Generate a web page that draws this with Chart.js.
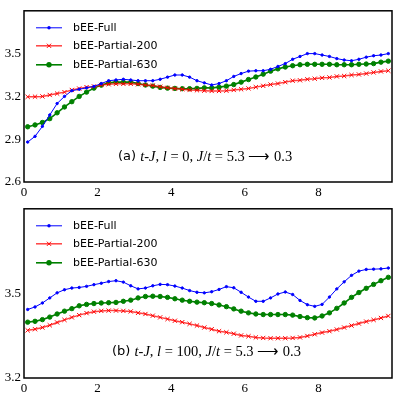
<!DOCTYPE html>
<html>
<head>
<meta charset="utf-8">
<script src="https://cdn.jsdelivr.net/npm/chart.js@4"></script>
<style>
  html, body { margin: 0; padding: 0; background: #fff; }
  canvas { position: absolute; left: 0; }
</style>
</head>
<body>
<canvas id="top" width="399" height="198" style="top:0"></canvas>
<canvas id="bottom" width="399" height="201" style="top:198px"></canvas>
<script>
const xs = [0.1,0.3,0.5,0.7,0.9,1.1,1.3,1.5,1.7,1.9,2.1,2.3,2.5,2.7,2.9,3.1,3.3,3.5,3.7,3.9,
  4.1,4.3,4.5,4.7,4.9,5.1,5.3,5.5,5.7,5.9,6.1,6.3,6.5,6.7,6.9,7.1,7.3,7.5,7.7,7.9,
  8.1,8.3,8.5,8.7,8.9,9.1,9.3,9.5,9.7,9.9];

const seriesNames = ["bEE-Full", "bEE-Partial-200", "bEE-Partial-630"];

// panel (a)
const topFull = [2.88,2.92,2.99,3.07,3.15,3.20,3.24,3.25,3.26,3.27,
  3.29,3.31,3.315,3.32,3.315,3.31,3.31,3.31,3.32,3.335,
  3.35,3.35,3.335,3.31,3.295,3.28,3.29,3.31,3.34,3.36,
  3.377,3.38,3.38,3.39,3.41,3.43,3.46,3.48,3.50,3.50,
  3.49,3.48,3.465,3.455,3.45,3.46,3.475,3.485,3.49,3.50];
const topP200 = [3.197,3.198,3.20,3.21,3.22,3.23,3.245,3.255,3.265,3.27,
  3.28,3.285,3.288,3.288,3.288,3.285,3.28,3.277,3.268,3.26,
  3.255,3.25,3.245,3.243,3.24,3.238,3.238,3.24,3.245,3.25,
  3.256,3.265,3.274,3.283,3.29,3.30,3.31,3.313,3.32,3.324,
  3.33,3.333,3.34,3.343,3.35,3.354,3.36,3.368,3.375,3.38];
const topP630 = [2.987,3.0,3.017,3.044,3.085,3.126,3.163,3.2,3.23,3.258,
  3.279,3.295,3.30,3.30,3.30,3.29,3.28,3.272,3.263,3.258,
  3.256,3.254,3.254,3.256,3.26,3.26,3.265,3.272,3.283,3.30,
  3.318,3.336,3.356,3.377,3.393,3.406,3.415,3.422,3.425,3.425,
  3.425,3.425,3.422,3.422,3.422,3.425,3.427,3.43,3.44,3.447];

// panel (b)
const botFull = [3.443,3.452,3.466,3.484,3.502,3.513,3.519,3.521,3.525,3.531,
  3.536,3.542,3.545,3.54,3.527,3.516,3.519,3.527,3.532,3.531,
  3.526,3.519,3.51,3.504,3.502,3.506,3.514,3.524,3.52,3.504,
  3.487,3.472,3.472,3.484,3.498,3.505,3.496,3.475,3.46,3.454,
  3.461,3.487,3.516,3.541,3.564,3.579,3.585,3.586,3.587,3.59];
const botP200 = [3.369,3.373,3.379,3.387,3.397,3.406,3.415,3.423,3.43,3.435,
  3.438,3.439,3.439,3.438,3.436,3.431,3.427,3.421,3.415,3.409,
  3.403,3.398,3.392,3.386,3.379,3.373,3.366,3.362,3.357,3.351,
  3.348,3.344,3.342,3.341,3.341,3.341,3.342,3.344,3.349,3.355,
  3.361,3.366,3.372,3.379,3.386,3.393,3.4,3.406,3.413,3.42];
const botP630 = [3.398,3.401,3.407,3.416,3.427,3.437,3.446,3.456,3.461,3.464,
  3.466,3.467,3.468,3.472,3.476,3.484,3.489,3.49,3.489,3.486,
  3.481,3.476,3.472,3.469,3.467,3.464,3.459,3.453,3.445,3.437,
  3.431,3.427,3.425,3.425,3.425,3.425,3.423,3.418,3.414,3.413,
  3.42,3.431,3.447,3.466,3.486,3.503,3.518,3.532,3.545,3.557];

const xTicks = [0, 2, 4, 6, 8];
const topYTicks = [2.6, 2.9, 3.2, 3.5];
const botYTicks = [3.2, 3.5];

// [text, font kind] : r = roman, i = math italic, s = sans
const topNote = [["(a) ", "s"], ["t", "i"], ["-", "r"], ["J", "i"], [", ", "r"], ["l", "i"], [" = 0, ", "r"],
  ["J", "i"], ["/", "r"], ["t", "i"], [" = 5.3 \u27F6 0.3", "r"]];
const botNote = [["(b) ", "s"], ["t", "i"], ["-", "r"], ["J", "i"], [", ", "r"], ["l", "i"], [" = 100, ", "r"],
  ["J", "i"], ["/", "r"], ["t", "i"], [" = 5.3 \u27F6 0.3", "r"]];

const noteFonts = {
  r: "14.5px 'Liberation Serif'",
  i: "italic 14.5px 'Liberation Serif'",
  s: "13px 'DejaVu Sans'",
};

const panelPlugin = {
  id: "panel",
  afterDraw(chart) {
    const { ctx, chartArea: a } = chart;
    ctx.save();
    // frame
    ctx.strokeStyle = "#000";
    ctx.lineWidth = 1.5;
    ctx.strokeRect(a.left, a.top, a.right - a.left, a.bottom - a.top);

    // legend in upper left
    const rows = [17, 35, 54];
    chart.data.datasets.forEach((ds, i) => {
      const y = a.top + rows[i];
      ctx.strokeStyle = ds.borderColor;
      ctx.lineWidth = ds.borderWidth;
      ctx.beginPath();
      ctx.moveTo(36, y);
      ctx.lineTo(62, y);
      ctx.stroke();
      ctx.fillStyle = ds.pointBackgroundColor;
      ctx.strokeStyle = ds.pointBorderColor;
      ctx.beginPath();
      if (ds.pointStyle === "circle") {
        ctx.arc(49, y, ds.pointRadius + 0.5, 0, Math.PI * 2);
        ctx.fill();
      } else {
        const r = ds.pointRadius * 0.7;
        ctx.lineWidth = ds.pointBorderWidth;
        ctx.moveTo(49 - r, y - r); ctx.lineTo(49 + r, y + r);
        ctx.moveTo(49 - r, y + r); ctx.lineTo(49 + r, y - r);
        ctx.stroke();
      }
      ctx.fillStyle = "#000";
      ctx.font = "11px 'DejaVu Sans'";
      ctx.textBaseline = "middle";
      ctx.textAlign = "left";
      ctx.fillText(ds.label, 73, y);
    });

    // annotation
    const { note, noteX, noteY } = chart.options.plugins.panel;
    let x = noteX;
    ctx.fillStyle = "#000";
    ctx.textBaseline = "middle";
    note.forEach(([t, k]) => {
      ctx.font = noteFonts[k];
      ctx.fillText(t, x, noteY);
      x += ctx.measureText(t).width;
    });
    ctx.restore();
  },
};

function makeChart(id, series, yMin, yMax, yTicks, note, noteX, noteY, xAxisH) {
  const colors = ["#0000ff", "rgba(255,0,0,0.75)", "#008000"];
  const pointColors = ["#0000ff", "#ff0000", "#008000"];
  const styles = ["circle", "crossRot", "circle"];
  const radii = [1.2, 3, 2.2];
  const widths = [1, 1.5, 1.6];
  return new Chart(document.getElementById(id), {
    type: "line",
    data: {
      datasets: series.map((vals, i) => ({
        label: seriesNames[i],
        data: xs.map((x, j) => ({ x: x, y: vals[j] })),
        borderColor: colors[i],
        borderWidth: widths[i],
        pointStyle: styles[i],
        pointRadius: radii[i],
        pointBackgroundColor: pointColors[i],
        pointBorderColor: pointColors[i],
        pointBorderWidth: 1,
        tension: 0,
        fill: false,
      })),
    },
    options: {
      responsive: false,
      animation: false,
      layout: { padding: { top: 6, right: 7, left: 0, bottom: 0 } },
      plugins: {
        legend: { display: false },
        tooltip: { enabled: false },
        panel: { note: note, noteX: noteX, noteY: noteY },
      },
      scales: {
        x: {
          type: "linear",
          min: 0,
          max: 10,
          grid: { display: false, drawTicks: false },
          border: { display: false },
          afterBuildTicks: (s) => { s.ticks = xTicks.map((v) => ({ value: v })); },
          afterFit: (s) => { s.height = xAxisH; },
          ticks: {
            padding: 3,
            color: "#000",
            font: { family: "'Liberation Serif'", size: 13 },
            maxRotation: 0,
          },
        },
        y: {
          min: yMin,
          max: yMax,
          grid: { display: false, drawTicks: false },
          border: { display: false },
          afterBuildTicks: (s) => { s.ticks = yTicks.map((v) => ({ value: v })); },
          afterFit: (s) => { s.width = 24; },
          ticks: {
            padding: 3,
            color: "#000",
            font: { family: "'Liberation Serif'", size: 13 },
            callback: (v) => v.toFixed(1),
          },
        },
      },
    },
    plugins: [panelPlugin],
  });
}

makeChart("top", [topFull, topP200, topP630], 2.6, 3.8, topYTicks, topNote, 118, 157, 16);
makeChart("bottom", [botFull, botP200, botP630], 3.2, 3.8, botYTicks, botNote, 112, 154, 21);
</script>
</body>
</html>
